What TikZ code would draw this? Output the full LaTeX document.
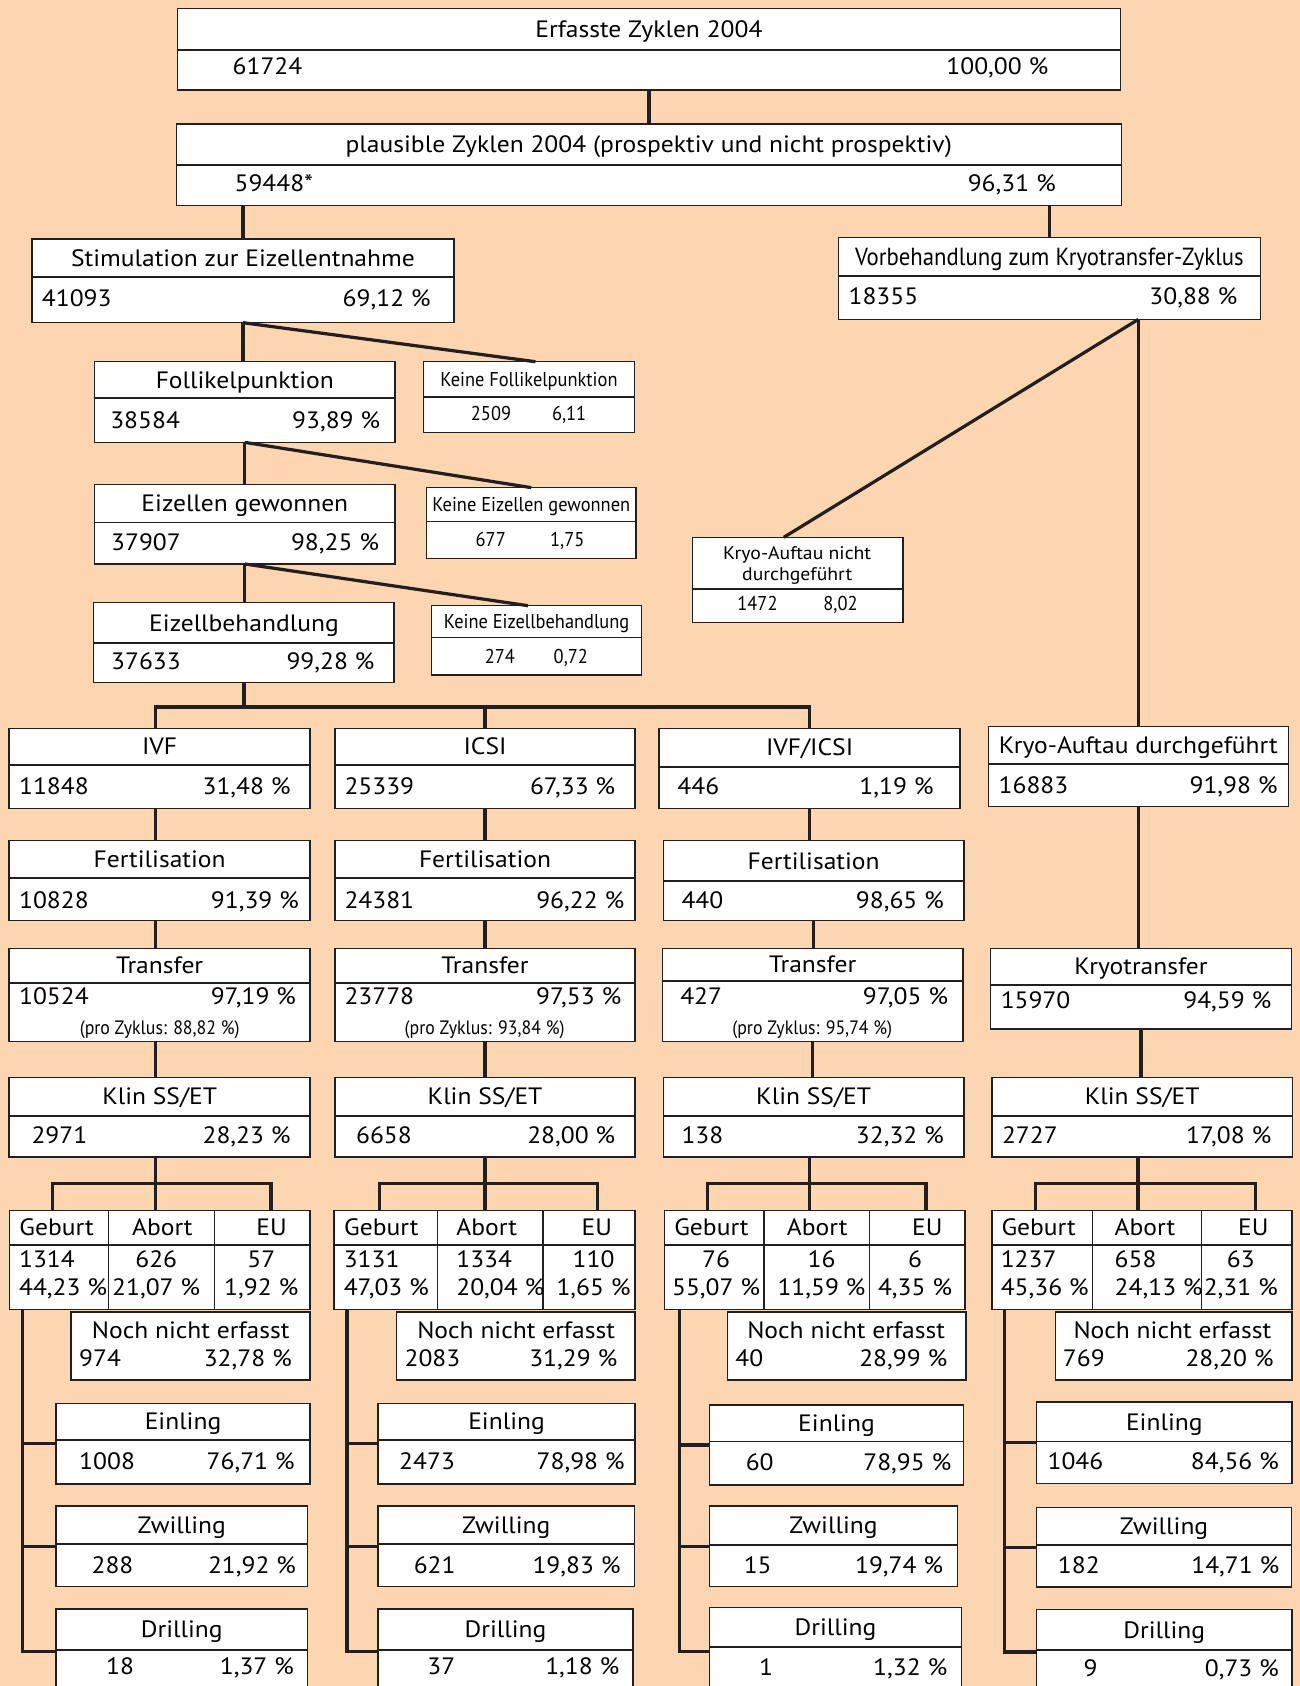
\documentclass[tikz,border=0pt]{standalone}
\usepackage{fontspec}
\setmainfont[FakeStretch=1.08]{PT Sans}
\newfontfamily\narrowfont[FakeStretch=0.92]{PT Sans}
\usetikzlibrary{calc,fit}
\definecolor{peach}{RGB}{252,214,176}
\definecolor{ink}{RGB}{35,31,32}

\newcommand\stage[8][]{%
  \node[box,fit={(#3,#4)(#5,#6)}] (#2) {};
  \draw[sep] (#3,#7) -- (#5,#7);
  \node[ttl,#1] (#2-t) at ($(#3,#4)!.5!(#5,#7)$) {#8};}
\newcommand\vals[7][]{%
  \node[val,#1,anchor=west] (#2-l) at (#4,#3) {#5};
  \node[val,#1,anchor=east] (#2-r) at (#6,#3) {#7};}
\newcommand\otab[5]{%
  \node[box,fit={(#2,1126)(#3,1218)}] (#1-geb) {};
  \node[box,fit={(#3,1126)(#4,1218)}] (#1-abo) {};
  \node[box,fit={(#4,1126)(#5,1218)}] (#1-eu) {};
  \draw[sep] (#2,1158) -- (#5,1158);}
\newcommand\ocol[7][center]{%
  \node[ttl] (#2-h) at (#3,1141.7) {#4};
  \node[val,anchor=#1] (#2-n) at (#5,1170.8) {#6};
  \node[val,anchor=#1] (#2-p) at (#5,1197.2) {#7};}
\newcommand\noch[8]{%
  \node[box,fit={(#2,1220)(#3,1283.4)}] (#1-noch) {};
  \node[ttl] (#1-noch-t) at (#4,1237) {Noch nicht erfasst};
  \vals{#1-noch}{1263.2}{#5}{#6}{#7}{#8}}

\begin{document}
\begin{tikzpicture}[x=0.5pt,y=-0.5pt,
  box/.style={draw=ink,fill=white,line width=0.65pt,inner sep=0pt,outer sep=0pt},
  sep/.style={draw=ink,line width=0.8pt},
  conn/.style={draw=ink,line width=1.5pt},
  ttl/.style={font=\fontsize{11}{13}\selectfont,inner sep=0pt,text height=7.7pt,text depth=0pt},
  val/.style={ttl},
  small/.style={font=\narrowfont\fontsize{9.3}{11}\selectfont,text height=6.5pt},
  wide/.style={font=\narrowfont\fontsize{11.5}{13}\selectfont},
  note/.style={font=\narrowfont\fontsize{9}{11}\selectfont,inner sep=0pt,text height=6.3pt,text depth=0pt}]
  \path[use as bounding box] (0,0) rectangle (1209,1568);
  \clip (0,0) rectangle (1209,1568);
  \fill[peach] (0,0) rectangle (1209,1568);

  \stage{erf}{165}{7.8}{1042}{83.7}{46.5}{Erfasste Zyklen 2004}
  \vals{erf}{62}{216}{61724}{975.4}{100,00~\%}
  \stage{pla}{163.9}{115.3}{1042.9}{191.3}{153.4}{plausible Zyklen 2004 (prospektiv und nicht prospektiv)}
  \vals{pla}{170.5}{217.8}{59448*}{982.3}{96,31~\%}

  \stage{stim}{29.7}{222.3}{422.2}{300.1}{257.3}{Stimulation zur Eizellentnahme}
  \vals{stim}{277.4}{38.6}{41093}{401}{69,12~\%}
  \stage[wide]{vorb}{779.9}{221}{1172}{297}{256.7}{Vorbehandlung zum Kryotransfer-Zyklus}
  \vals{vorb}{275.9}{788.8}{18355}{1151.2}{30,88~\%}

  \stage{foll}{87.9}{336.4}{367.4}{411.4}{370.4}{Follikelpunktion}
  \vals{foll}{391.2}{102.2}{38584}{354}{93,89~\%}
  \stage[small]{kfoll}{394}{336.4}{589.9}{402}{369.5}{Keine Follikelpunktion}
  \vals[small]{kfoll}{384.4}{437.6}{2509}{545.6}{6,11}
  \stage{eiz}{88}{450.4}{367.4}{524.5}{485.8}{Eizellen gewonnen}
  \vals{eiz}{504.7}{103}{37907}{352.9}{98,25~\%}
  \stage[small]{keiz}{396.5}{453.5}{591.6}{519.2}{485.1}{Keine Eizellen gewonnen}
  \vals[small]{keiz}{501.3}{442}{677}{543.9}{1,75}
  \stage{ezb}{87.2}{560.5}{366.6}{634.9}{598.3}{Eizellbehandlung}
  \vals{ezb}{615.3}{103}{37633}{348.7}{99,28~\%}
  \stage[small]{kezb}{401.5}{563.3}{596.6}{627.7}{593}{Keine Eizellbehandlung}
  \vals[small]{kezb}{610.7}{450.5}{274}{547.2}{0,72}

  \node[box,fit={(644.2,499.7)(839.7,579.1)}] (knicht) {};
  \draw[sep] (644.2,547.5) -- (839.7,547.5);
  \node[font=\fontsize{8.5}{10}\selectfont,align=center,inner sep=0pt] (knicht-t) at (741.4,525.9) {Kryo-Auftau nicht\\durchgeführt};
  \vals[small]{knicht}{561.1}{685.4}{1472}{798}{8,02}

  \stage{ivf}{8.5}{677.3}{288.4}{751.7}{711.4}{IVF}
  \vals{ivf}{731.6}{17.4}{11848}{270.7}{31,48~\%}
  \stage{icsi}{311.5}{677.3}{590.7}{751.7}{711.4}{ICSI}
  \vals{icsi}{731.6}{320}{25339}{572.6}{67,33~\%}
  \stage{mix}{613}{677.3}{892.9}{751.7}{713}{IVF/ICSI}
  \vals{mix}{731.6}{629.6}{446}{868.6}{1,19~\%}
  \stage{kdurch}{919.1}{675.8}{1198.3}{750.2}{710.5}{Kryo-Auftau durchgeführt}
  \vals{kdurch}{730}{928.4}{16883}{1188.6}{91,98~\%}

  \stage{fertA}{8.5}{781.8}{288.4}{856.2}{816.8}{Fertilisation}
  \vals{fertA}{837}{17.4}{10828}{278.4}{91,39~\%}
  \stage{fertB}{311.5}{781.8}{590.7}{856.2}{816.8}{Fertilisation}
  \vals{fertB}{837}{320}{24381}{581}{96,22~\%}
  \stage{fertC}{616.9}{781.8}{896.4}{856.2}{819.3}{Fertilisation}
  \vals{fertC}{837}{633.4}{440}{878.3}{98,65~\%}

  \stage{trA}{8.5}{882}{288.4}{968.7}{913.9}{Transfer}
  \vals{trA}{926.9}{17.4}{10524}{275.7}{97,19~\%}
  \node[note] (trA-z) at (148.5,956) {(pro Zyklus: 88,82~\%)};
  \stage{trB}{311.5}{882}{590.7}{968.7}{913.9}{Transfer}
  \vals{trB}{926.9}{320}{23778}{578.3}{97,53~\%}
  \node[note] (trB-z) at (450.7,956) {(pro Zyklus: 93,84~\%)};
  \stage{trC}{616}{882}{895.6}{968.7}{912}{Transfer}
  \vals{trC}{926.9}{632.3}{427}{882.1}{97,05~\%}
  \node[note] (trC-z) at (755.4,956) {(pro Zyklus: 95,74~\%)};
  \stage{ktr}{921.4}{882}{1201}{957}{916}{Kryotransfer}
  \vals{ktr}{930}{930.3}{15970}{1182.8}{94,59~\%}

  \stage{klA}{8.5}{1002}{288.4}{1076}{1037.8}{Klin SS/ET}
  \vals{klA}{1056}{28.9}{2971}{270.7}{28,23~\%}
  \stage{klB}{311.5}{1002}{590.7}{1076}{1037.8}{Klin SS/ET}
  \vals{klB}{1056}{330.8}{6658}{572.6}{28,00~\%}
  \stage{klC}{616.9}{1002}{896.4}{1076}{1037.8}{Klin SS/ET}
  \vals{klC}{1056}{633.4}{138}{878.3}{32,32~\%}
  \stage{klD}{922.5}{1002}{1202}{1076}{1037.8}{Klin SS/ET}
  \vals{klD}{1056}{931.5}{2727}{1182.8}{17,08~\%}

  \otab{A}{9}{101}{199.7}{288.4}
  \ocol[west]{A-geb}{52.6}{Geburt}{17.4}{1314}{44,23~\%}
  \ocol{A-abo}{151}{Abort}{145.3}{626}{21,07~\%}
  \ocol{A-eu}{252.6}{EU}{243}{57}{1,92~\%}
  \otab{B}{310.8}{406.8}{505}{590.6}
  \ocol[west]{B-geb}{354.7}{Geburt}{319.3}{3131}{47,03~\%}
  \ocol[west]{B-abo}{452.6}{Abort}{424}{1334}{20,04~\%}
  \ocol{B-eu}{555}{EU}{552}{110}{1,65~\%}
  \otab{C}{618}{710.5}{808.8}{897.5}
  \ocol{C-geb}{661.7}{Geburt}{666}{76}{55,07~\%}
  \ocol{C-abo}{760}{Abort}{764}{16}{11,59~\%}
  \ocol{C-eu}{862.4}{EU}{851}{6}{4,35~\%}
  \otab{D}{922.5}{1016}{1117.3}{1201.4}
  \ocol[west]{D-geb}{966}{Geburt}{930.3}{1237}{45,36~\%}
  \ocol[west]{D-abo}{1064.8}{Abort}{1036.3}{658}{24,13~\%}
  \ocol{D-eu}{1165.6}{EU}{1154}{63}{2,31~\%}

  \noch{A}{66}{288.4}{177.4}{73.3}{974}{271.8}{32,78~\%}
  \noch{B}{369}{590.6}{480}{375.9}{2083}{574.5}{31,29~\%}
  \noch{C}{676.6}{898.4}{786.9}{683.6}{40}{881.4}{28,99~\%}
  \noch{D}{981.6}{1201.4}{1090.3}{988.1}{769}{1184.8}{28,20~\%}

  \stage{A-ein}{52}{1305}{288.4}{1380}{1339}{Einling}
  \vals{A-ein}{1359}{73.3}{1008}{274.5}{76,71~\%}
  \stage{A-zw}{52}{1400.5}{286.1}{1475.5}{1436}{Zwilling}
  \vals{A-zw}{1455.6}{84.8}{288}{275.7}{21,92~\%}
  \stage{A-dr}{52}{1496.5}{286.1}{1576}{1534.6}{Drilling}
  \vals{A-dr}{1550}{98.3}{18}{273.8}{1,37~\%}
  \stage{B-ein}{351.6}{1305}{590.6}{1380}{1339}{Einling}
  \vals{B-ein}{1359}{370.9}{2473}{581.4}{78,98~\%}
  \stage{B-zw}{351.6}{1400.5}{589.9}{1475.5}{1436}{Zwilling}
  \vals{B-zw}{1455.6}{384.4}{621}{577.5}{19,83~\%}
  \stage{B-dr}{351.6}{1496.5}{588.7}{1576}{1534.6}{Drilling}
  \vals{B-dr}{1550}{397.1}{37}{576.4}{1,18~\%}
  \stage{C-ein}{659.6}{1306.6}{896.3}{1381}{1340.7}{Einling}
  \vals{C-ein}{1360}{693.2}{60}{885.2}{78,95~\%}
  \stage{C-zw}{659.6}{1400.5}{890.6}{1475.5}{1436.8}{Zwilling}
  \vals{C-zw}{1455.4}{691.3}{15}{877.5}{19,74~\%}
  \stage{C-dr}{659.6}{1495.1}{894.4}{1576}{1532}{Drilling}
  \vals{C-dr}{1550.4}{705.5}{1}{881.4}{1,32~\%}
  \stage{D-ein}{964.2}{1303.9}{1201.4}{1379.5}{1340.7}{Einling}
  \vals{D-ein}{1359.3}{973.9}{1046}{1189.8}{84,56~\%}
  \stage{D-zw}{964.2}{1402}{1201}{1476}{1436.8}{Zwilling}
  \vals{D-zw}{1456}{983.5}{182}{1190.2}{14,71~\%}
  \stage{D-dr}{964.2}{1496.6}{1201.4}{1576}{1534.7}{Drilling}
  \vals{D-dr}{1551}{1007.4}{9}{1189.8}{0,73~\%}

  \draw[conn] (erf.south) -- (erf.south |- pla.north);
  \draw[conn] (stim.north |- pla.south) -- (stim.north);
  \draw[conn] (vorb.north |- pla.south) -- (vorb.north);
  \draw[conn] (stim.south) -- (stim.south |- foll.north);
  \draw[conn] (stim.south) -- ([xshift=3pt]kfoll.north);
  \draw[conn] (foll.south) -- (foll.south |- eiz.north);
  \draw[conn] (foll.south) -- (keiz.north);
  \draw[conn] (eiz.south) -- (eiz.south |- ezb.north);
  \draw[conn] (eiz.south) -- ([xshift=-4pt]kezb.north);
  \coordinate (vk) at (kdurch.north |- vorb.south);
  \draw[conn] (vk) -- (kdurch.north);
  \draw[conn] (vk) -- ([xshift=-6.5pt]knicht.north);
  \coordinate (bus) at (0,657.5);
  \draw[conn] (ezb.south) -- (ezb.south |- bus);
  \draw[conn] ([xshift=-2pt]ivf.north) -- ([xshift=-2pt]ivf.north |- bus) -- (mix.north |- bus) -- (mix.north);
  \draw[conn] (icsi.north) -- (icsi.north |- bus);
  \draw[conn] ([xshift=-2pt]ivf.south) -- ([xshift=-2pt]ivf.south |- fertA.north);
  \draw[conn] (icsi.south) -- (icsi.south |- fertB.north);
  \draw[conn] (mix.south) -- (mix.south |- fertC.north);
  \draw[conn] ([xshift=-2pt]fertA.south) -- ([xshift=-2pt]fertA.south |- trA.north);
  \draw[conn] (fertB.south) -- (fertB.south |- trB.north);
  \draw[conn] (fertC.south) -- (fertC.south |- trC.north);
  \draw[conn] ([xshift=-2pt]trA.south) -- ([xshift=-2pt]trA.south |- klA.north);
  \draw[conn] (trB.south) -- (trB.south |- klB.north);
  \draw[conn] (trC.south) -- (trC.south |- klC.north);
  \draw[conn] (kdurch.south) -- (kdurch.south |- ktr.north);
  \draw[conn] (ktr.south) -- (ktr.south |- klD.north);

  \coordinate (tbus) at (0,1101);
  \draw[conn] ([xshift=-2pt]klA.south) -- ([xshift=-2pt]klA.south |- A-abo.north);
  \draw[conn] ([xshift=-3pt]A-geb.north) -- ([xshift=-3pt]A-geb.north |- tbus) -- ([xshift=4pt]A-eu.north |- tbus) -- ([xshift=4pt]A-eu.north);
  \draw[conn] (klB.south) -- (klB.south |- B-abo.north);
  \draw[conn] ([xshift=-3pt]B-geb.north) -- ([xshift=-3pt]B-geb.north |- tbus) -- ([xshift=4pt]B-eu.north |- tbus) -- ([xshift=4pt]B-eu.north);
  \draw[conn] ([xshift=-2pt]klC.south) -- ([xshift=-2pt]klC.south |- C-abo.north);
  \draw[conn] ([xshift=-3pt]C-geb.north) -- ([xshift=-3pt]C-geb.north |- tbus) -- ([xshift=4pt]C-eu.north |- tbus) -- ([xshift=4pt]C-eu.north);
  \draw[conn] ([xshift=-2pt]klD.south) -- ([xshift=-2pt]klD.south |- D-abo.north);
  \draw[conn] ([xshift=-3pt]D-geb.north) -- ([xshift=-3pt]D-geb.north |- tbus) -- ([xshift=4pt]D-eu.north |- tbus) -- ([xshift=4pt]D-eu.north);

  \coordinate (A-sp) at ([xshift=6pt]A-geb.south west);
  \coordinate (B-sp) at ([xshift=6pt]B-geb.south west);
  \coordinate (C-sp) at ([xshift=7pt]C-geb.south west);
  \coordinate (D-sp) at ([xshift=6pt]D-geb.south west);
  \draw[conn] (A-sp) |- (A-dr.west);
  \draw[conn] (A-sp |- A-ein.west) -- (A-ein.west);
  \draw[conn] (A-sp |- A-zw.west) -- (A-zw.west);
  \draw[conn] (B-sp) |- (B-dr.west);
  \draw[conn] (B-sp |- B-ein.west) -- (B-ein.west);
  \draw[conn] (B-sp |- B-zw.west) -- (B-zw.west);
  \draw[conn] (C-sp) |- (C-dr.west);
  \draw[conn] (C-sp |- C-ein.west) -- (C-ein.west);
  \draw[conn] (C-sp |- C-zw.west) -- (C-zw.west);
  \draw[conn] (D-sp) |- (D-dr.west);
  \draw[conn] (D-sp |- D-ein.west) -- (D-ein.west);
  \draw[conn] (D-sp |- D-zw.west) -- (D-zw.west);
\end{tikzpicture}
\end{document}
